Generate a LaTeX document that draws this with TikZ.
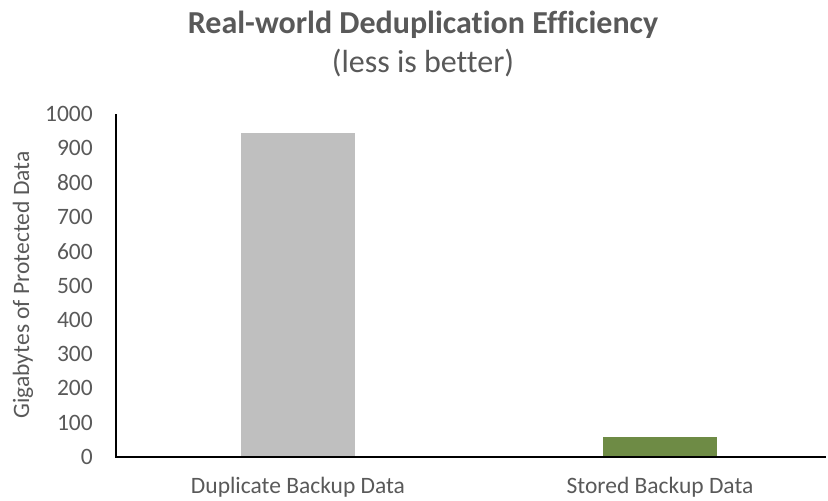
\documentclass[tikz,border=0pt]{standalone}
\usepackage{fontspec}
\setmainfont{Carlito}[Ligatures=CommonOff]
\definecolor{txtgray}{HTML}{595959}
\definecolor{bargray}{HTML}{BFBFBF}
\definecolor{bargreen}{HTML}{6E8B45}
\tikzset{
  lbl/.style={text=txtgray, font=\fontsize{23.5}{27}\selectfont, inner sep=0pt},
  ttl/.style={text=txtgray, font=\fontsize{32}{36}\selectfont, inner sep=0pt}
}
\begin{document}
\begin{tikzpicture}[x=1pt,y=-1pt]
            \useasboundingbox (0,0) rectangle (828,501);
            % title
            \node[ttl] (T) at (423,25) {\bfseries Real-world Deduplication Efficiency};
            \node[ttl] (S) at (423,63) {(less is better)};
            % bars
            \fill[bargray] (241,457) rectangle (355,133);
            \fill[bargreen] (603,457) rectangle (717,437);
            % axes
            \coordinate (O) at (116,457);
            \coordinate (Top) at (116,114);
            \coordinate (Right) at (826,457);
            \draw[line width=1.3pt] (Top) -- (O) -- (Right);
            \foreach \v in {0,100,...,1000}
              \node[lbl, anchor=east] (y\v) at (93,{457-0.343*\v}) {\v};
            \node[lbl, rotate=90] (YT) at (23,285) {Gigabytes of Protected Data};
            \node[lbl] (C1) at (298,487) {Duplicate Backup Data};
            \node[lbl] (C2) at (660,487) {Stored Backup Data};
        \end{tikzpicture}
\end{document}
